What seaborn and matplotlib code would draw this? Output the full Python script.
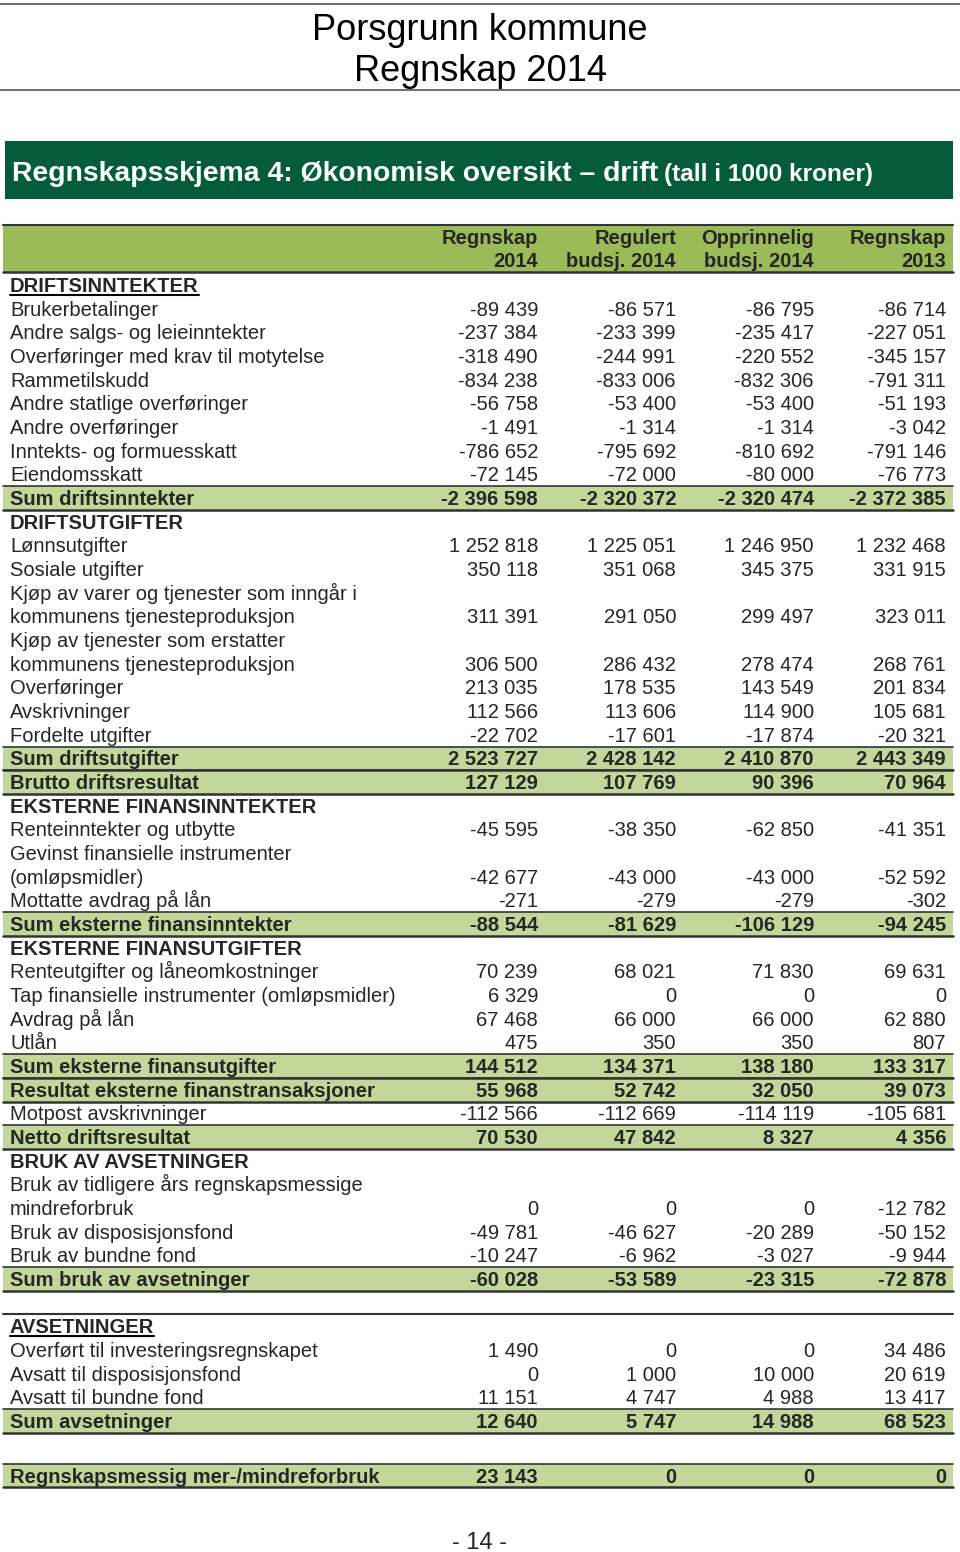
import matplotlib
matplotlib.use("Agg")
import matplotlib.pyplot as plt
import seaborn as sns

# ---------------- data ----------------
labels = [
    "DRIFTSINNTEKTER",
    "Brukerbetalinger",
    "Andre salgs- og leieinntekter",
    "Overføringer med krav til motytelse",
    "Rammetilskudd",
    "Andre statlige overføringer",
    "Andre overføringer",
    "Inntekts- og formuesskatt",
    "Eiendomsskatt",
    "Sum driftsinntekter",
    "DRIFTSUTGIFTER",
    "Lønnsutgifter",
    "Sosiale utgifter",
    "Kjøp av varer og tjenester som inngår i\nkommunens tjenesteproduksjon",
    "Kjøp av tjenester som erstatter\nkommunens tjenesteproduksjon",
    "Overføringer",
    "Avskrivninger",
    "Fordelte utgifter",
    "Sum driftsutgifter",
    "Brutto driftsresultat",
    "EKSTERNE FINANSINNTEKTER",
    "Renteinntekter og utbytte",
    "Gevinst finansielle instrumenter\n(omløpsmidler)",
    "Mottatte avdrag på lån",
    "Sum eksterne finansinntekter",
    "EKSTERNE FINANSUTGIFTER",
    "Renteutgifter og låneomkostninger",
    "Tap finansielle instrumenter (omløpsmidler)",
    "Avdrag på lån",
    "Utlån",
    "Sum eksterne finansutgifter",
    "Resultat eksterne finanstransaksjoner",
    "Motpost avskrivninger",
    "Netto driftsresultat",
    "BRUK AV AVSETNINGER",
    "Bruk av tidligere års regnskapsmessige\nmindreforbruk",
    "Bruk av disposisjonsfond",
    "Bruk av bundne fond",
    "Sum bruk av avsetninger",
    "AVSETNINGER",
    "Overført til investeringsregnskapet",
    "Avsatt til disposisjonsfond",
    "Avsatt til bundne fond",
    "Sum avsetninger",
    "Regnskapsmessig mer-/mindreforbruk",
]

kinds = [
    "head_u", "item", "item", "item", "item", "item", "item", "item", "item", "sum",
    "head", "item", "item", "item", "item", "item", "item", "item", "sum", "sum",
    "head", "item", "item", "item", "sum",
    "head", "item", "item", "item", "item", "sum", "sum", "item", "sum",
    "head", "item", "item", "item", "sum",
    "head_u", "item", "item", "item", "sum",
    "sum",
]

regnskap_2014 = [
    None, -89439, -237384, -318490, -834238, -56758, -1491, -786652, -72145, -2396598,
    None, 1252818, 350118, 311391, 306500, 213035, 112566, -22702, 2523727, 127129,
    None, -45595, -42677, -271, -88544,
    None, 70239, 6329, 67468, 475, 144512, 55968, -112566, 70530,
    None, 0, -49781, -10247, -60028,
    None, 1490, 0, 11151, 12640,
    23143,
]
regulert_2014 = [
    None, -86571, -233399, -244991, -833006, -53400, -1314, -795692, -72000, -2320372,
    None, 1225051, 351068, 291050, 286432, 178535, 113606, -17601, 2428142, 107769,
    None, -38350, -43000, -279, -81629,
    None, 68021, 0, 66000, 350, 134371, 52742, -112669, 47842,
    None, 0, -46627, -6962, -53589,
    None, 0, 1000, 4747, 5747,
    0,
]
opprinnelig_2014 = [
    None, -86795, -235417, -220552, -832306, -53400, -1314, -810692, -80000, -2320474,
    None, 1246950, 345375, 299497, 278474, 143549, 114900, -17874, 2410870, 90396,
    None, -62850, -43000, -279, -106129,
    None, 71830, 0, 66000, 350, 138180, 32050, -114119, 8327,
    None, 0, -20289, -3027, -23315,
    None, 0, 10000, 4988, 14988,
    0,
]
regnskap_2013 = [
    None, -86714, -227051, -345157, -791311, -51193, -3042, -791146, -76773, -2372385,
    None, 1232468, 331915, 323011, 268761, 201834, 105681, -20321, 2443349, 70964,
    None, -41351, -52592, -302, -94245,
    None, 69631, 0, 62880, 807, 133317, 39073, -105681, 4356,
    None, -12782, -50152, -9944, -72878,
    None, 34486, 20619, 13417, 68523,
    0,
]

col_head_1 = ["Regnskap", "Regulert", "Opprinnelig", "Regnskap"]
col_head_2 = ["2014", "budsj. 2014", "budsj. 2014", "2013"]

# extra blank-line gaps before some rows (layout)
gap_before = {"AVSETNINGER": 1.0, "Regnskapsmessig mer-/mindreforbruk": 1.3}

# ---------------- style ----------------
sns.set_theme(style="white")
plt.rcParams["font.family"] = ["Liberation Sans", "DejaVu Sans"]

W, H = 960, 1552
fig = plt.figure(figsize=(W / 100, H / 100), dpi=100)
ax = fig.add_axes([0, 0, 1, 1])
ax.set_xlim(0, W)
ax.set_ylim(H, 0)
ax.axis("off")

DARK_GREEN = "#055c3c"
HEAD_GREEN = "#9bbb59"
SUM_GREEN = "#c4d79b"
LINE = "#333333"
FS = 14.5
col_x = [538, 676, 814, 946]
lab_x = 10
x_left, x_right = 3, 953

# page header
ax.plot([0, W], [4, 4], color="#555555", lw=1.2)
ax.plot([0, W], [90, 90], color="#555555", lw=1.2)
ax.text(W / 2, 40, "Porsgrunn kommune", ha="center", va="baseline", fontsize=26, color="black")
ax.text(W / 2, 81, "Regnskap 2014", ha="center", va="baseline", fontsize=26, color="black")

# banner
ax.add_patch(plt.Rectangle((5, 141), 948, 58, color=DARK_GREEN, lw=0))
t1 = ax.text(12, 181, "Regnskapsskjema 4: Økonomisk oversikt – drift", ha="left",
             va="baseline", fontsize=20.4, fontweight="bold", color="white")
fig.canvas.draw()
renderer = fig.canvas.get_renderer()
bb = t1.get_window_extent(renderer)
x_end = bb.x1
ax.text(x_end + 6, 181, "(tall i 1000 kroner)", ha="left", va="baseline",
        fontsize=17.6, fontweight="bold", color="white")

# column header band
ax.add_patch(plt.Rectangle((x_left, 225), x_right - x_left, 47, color=HEAD_GREEN, lw=0))
ax.plot([x_left, x_right], [225, 225], color=LINE, lw=1.5)
ax.plot([x_left, x_right], [272, 272], color=LINE, lw=1.8)
for cx, h1, h2 in zip(col_x, col_head_1, col_head_2):
    ax.text(cx, 244, h1, ha="right", va="baseline", fontsize=FS, fontweight="bold")
    ax.text(cx, 267, h2, ha="right", va="baseline", fontsize=FS, fontweight="bold")


def fmt(v):
    return f"{v:,}".replace(",", " ")


pitch = 23.67
y0 = 285
line_idx = 0.0
half = pitch / 2
series = [regnskap_2014, regulert_2014, opprinnelig_2014, regnskap_2013]
for i, (lab, kind) in enumerate(zip(labels, kinds)):
    line_idx += gap_before.get(lab, 0)
    parts = lab.split("\n")
    for k, part in enumerate(parts):
        yc = y0 + pitch * (line_idx + k)
        last = k == len(parts) - 1
        bold = kind in ("head", "head_u", "sum")
        if kind == "sum":
            ax.add_patch(plt.Rectangle((x_left, yc - half), x_right - x_left, pitch,
                                       color=SUM_GREEN, lw=0, zorder=0))
            ax.plot([x_left, x_right], [yc - half, yc - half], color=LINE, lw=1.2, zorder=1)
            ax.plot([x_left, x_right], [yc + half, yc + half], color=LINE, lw=1.8, zorder=1)
        t = ax.text(lab_x, yc + 7, part, ha="left", va="baseline", fontsize=FS,
                    fontweight="bold" if bold else "normal", zorder=3)
        if kind == "head_u":
            fig.canvas.draw()
            b = t.get_window_extent(renderer)
            ax.plot([b.x0, b.x1], [yc + 9.5, yc + 9.5], color="black", lw=1.5, zorder=3)
        if last:
            for cx, s in zip(col_x, series):
                v = s[i]
                if v is not None:
                    ax.text(cx, yc + 7, fmt(v), ha="right", va="baseline", fontsize=FS,
                            fontweight="bold" if bold else "normal", zorder=3)
    if lab == "AVSETNINGER":
        yl = y0 + pitch * line_idx - half - 1
        ax.plot([x_left, x_right], [yl, yl], color=LINE, lw=1.5)
    line_idx += len(parts)

# page number
ax.text(W / 2, 1549, "- 14 -", ha="center", va="baseline", fontsize=17)

fig.savefig("out.png", dpi=100)
